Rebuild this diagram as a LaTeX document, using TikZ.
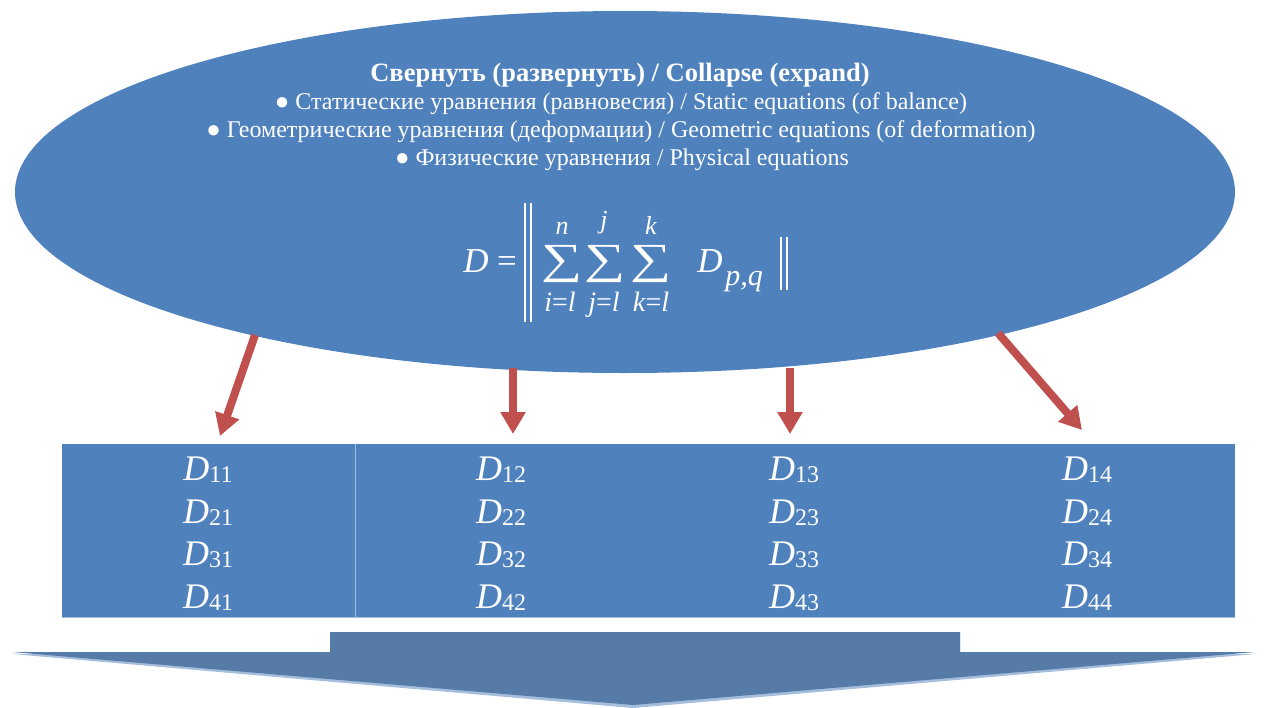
\documentclass[tikz,border=0pt]{standalone}
\usepackage{fontspec}
\usepackage{graphicx}
\setmainfont{Liberation Serif}
\usetikzlibrary{shapes.geometric,arrows.meta}
\definecolor{ellblue}{RGB}{79,129,189}
\definecolor{arrred}{RGB}{192,80,77}
\definecolor{bigarrow}{RGB}{86,123,166}
\definecolor{edgeblue}{RGB}{165,190,222}
\newcommand\fs[1]{\fontsize{#1}{#1}\selectfont}
\newcommand\dcell[1]{{\fs{36}\itshape D}\raisebox{-2pt}{\fs{24}#1}}
\newcommand\bigsum{\scalebox{1.05}[0.78]{\fs{55}∑}}
\begin{document}
\begin{tikzpicture}[x=1pt,y=-1pt,
  wtext/.style={text=white, inner sep=0pt, anchor=base},
  redarrow/.style={draw=arrred, line width=8pt, -{Triangle[width=24pt,length=22pt]}},
  cellnode/.style={text=white, inner sep=0pt, anchor=base}
]
\useasboundingbox (0,0) rectangle (1268,707);

% ellipse
\node[ellipse, fill=ellblue, minimum width=1220pt, minimum height=362pt, inner sep=0pt] (ell) at (625,192) {};

% texts
\node[wtext] (title) at (620,81) {\fs{26.5}\bfseries Свернуть (развернуть) / Collapse (expand)};
\node[wtext] (b1) at (621,109) {\fs{24}● Статические уравнения (равновесия) / Static equations (of balance)};
\node[wtext] (b2) at (621,137) {\fs{24}● Геометрические уравнения (деформации) / Geometric equations (of deformation)};
\node[wtext] (b3) at (622,165) {\fs{24}● Физические уравнения / Physical equations};

% formula
\node[wtext] (fD) at (476,272) {\fs{35}\itshape D};
\node[wtext] (feq) at (507,272) {\fs{35}=};
\draw[white, line width=1.3pt] (525,203) -- (525,322) (531,203) -- (531,322);
\node[wtext] (s1) at (562,273) {\bigsum};
\node[wtext] (s2) at (605,273) {\bigsum};
\node[wtext] (s3) at (651,273) {\bigsum};
\node[wtext] (u1) at (562,234) {\fs{26}\itshape n};
\node[wtext] (u2) at (604,228) {\fs{26}\itshape j};
\node[wtext] (u3) at (651,234) {\fs{26}\itshape k};
\node[wtext] (l1) at (560,311) {\fs{28}\textit{i}=\textit{l}};
\node[wtext] (l2) at (604,311) {\fs{28}\textit{j}=\textit{l}};
\node[wtext] (l3) at (651,311) {\fs{28}\textit{k}=\textit{l}};
\node[wtext] (fD2) at (710,272) {\fs{35}\itshape D};
\node[wtext] (fpq) at (744,285) {\fs{30}\itshape p,q};
\draw[white, line width=1.3pt] (781,237) -- (781,290) (787,237) -- (787,290);

% red arrows
\coordinate (a1s) at (255,335); \coordinate (a1e) at (220,436);
\coordinate (a2s) at (513,368); \coordinate (a2e) at (513,434);
\coordinate (a3s) at (790,368); \coordinate (a3e) at (790,434);
\coordinate (a4s) at (998,333); \coordinate (a4e) at (1082,430);
\draw[redarrow] (a1s) -- (a1e);
\draw[redarrow] (a2s) -- (a2e);
\draw[redarrow] (a3s) -- (a3e);
\draw[redarrow] (a4s) -- (a4e);

% table
\node[fill=ellblue, minimum width=1173pt, minimum height=173pt, inner sep=0pt, anchor=north west] (tbl) at (62,444) {};
\draw[edgeblue, line width=1pt] (355,444) -- (355,617);
\draw[edgeblue, line width=1pt] (62,617) -- (1235,617);

\node[cellnode] (d11) at (208,480) {\dcell{11}};
\node[cellnode] (d21) at (208,523) {\dcell{21}};
\node[cellnode] (d31) at (208,565) {\dcell{31}};
\node[cellnode] (d41) at (208,608) {\dcell{41}};
\node[cellnode] (d12) at (501,480) {\dcell{12}};
\node[cellnode] (d22) at (501,523) {\dcell{22}};
\node[cellnode] (d32) at (501,565) {\dcell{32}};
\node[cellnode] (d42) at (501,608) {\dcell{42}};
\node[cellnode] (d13) at (794,480) {\dcell{13}};
\node[cellnode] (d23) at (794,523) {\dcell{23}};
\node[cellnode] (d33) at (794,565) {\dcell{33}};
\node[cellnode] (d43) at (794,608) {\dcell{43}};
\node[cellnode] (d14) at (1087,480) {\dcell{14}};
\node[cellnode] (d24) at (1087,523) {\dcell{24}};
\node[cellnode] (d34) at (1087,565) {\dcell{34}};
\node[cellnode] (d44) at (1087,608) {\dcell{44}};

% big down arrow
\fill[edgeblue] (12,654) -- (330,654) -- (330,632) -- (960,632) -- (960,654) -- (1256,654) -- (633,708) -- cycle;
\fill[bigarrow] (330,632) -- (960,632) -- (960,652) -- (1255,652) -- (633,705) -- (12,652) -- (330,652) -- cycle;
\end{tikzpicture}
\end{document}
